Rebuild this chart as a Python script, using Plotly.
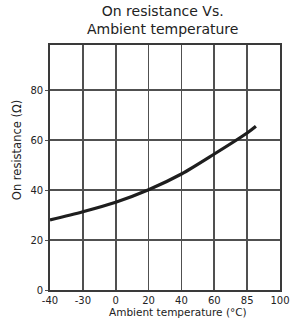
import numpy as np
import plotly.graph_objects as go

# Tick labels on the (non-linear, equally spaced) temperature axis
x_tick_labels = ["-40", "-30", "0", "20", "40", "60", "85", "100"]
x_tick_temps = [-40, -30, 0, 20, 40, 60, 85, 100]
y_tick_vals = [0, 20, 40, 60, 80]

# Curve (temperature in °C, resistance in Ω)
curve_temp = [-40, -30, 0, 20, 40, 60, 85, 89]
curve_res = [28.0, 31.3, 35.1, 40.1, 46.4, 54.4, 62.8, 65.5]

# map temperatures onto the equally spaced axis positions
tick_pos = list(range(len(x_tick_temps)))
curve_pos = np.interp(curve_temp, x_tick_temps, tick_pos)

font = "DejaVu Sans"
ink = "#222222"
grid = "#505050"

fig = go.Figure()
fig.add_trace(go.Scatter(
    x=curve_pos, y=curve_res, mode="lines",
    line=dict(color="#1e1e1e", width=3.2, shape="spline", smoothing=0.8),
    hoverinfo="skip", showlegend=False,
))

fig.update_layout(
    width=297, height=322,
    margin=dict(l=50, r=7, t=45, b=32),
    paper_bgcolor="white", plot_bgcolor="white",
    font=dict(family=font, color=ink, size=10),
    showlegend=False,
    xaxis=dict(
        range=[0, 7], tickmode="array", tickvals=tick_pos, ticktext=x_tick_labels,
        showgrid=True, gridcolor=grid, gridwidth=1.7,
        showline=True, linecolor="#3a3a3a", linewidth=1.8, mirror=True,
        ticks="", zeroline=False, fixedrange=True, ticklabeloverflow="allow",
        tickfont=dict(family=font, size=10, color=ink),
    ),
    yaxis=dict(
        range=[0, 98], tickmode="array", tickvals=y_tick_vals,
        showgrid=True, gridcolor=grid, gridwidth=1.7,
        showline=True, linecolor="#3a3a3a", linewidth=1.8, mirror=True,
        ticks="outside", ticklen=3, tickcolor=grid, zeroline=False,
        fixedrange=True,
        tickfont=dict(family=font, size=10, color=ink),
    ),
    annotations=[
        dict(text="On resistance Vs.<br>Ambient temperature", xref="paper", yref="paper",
             x=0.4875, y=1.102, xanchor="center", yanchor="middle", showarrow=False,
             font=dict(family=font, size=14, color=ink)),
        dict(text="Ambient temperature (°C)", xref="paper", yref="paper",
             x=0.558, y=-0.09, xanchor="center", yanchor="middle", showarrow=False,
             font=dict(family=font, size=10.5, color=ink)),
        dict(text="On resistance (Ω)", xref="paper", yref="paper",
             x=-0.14, y=0.57, xanchor="center", yanchor="middle", showarrow=False,
             textangle=-90, font=dict(family=font, size=11.5, color=ink)),
    ],
)

fig.write_html("out.html", config={"displayModeBar": False, "staticPlot": True},
               post_script="document.body.style.margin='0';document.body.style.overflow='hidden';")
